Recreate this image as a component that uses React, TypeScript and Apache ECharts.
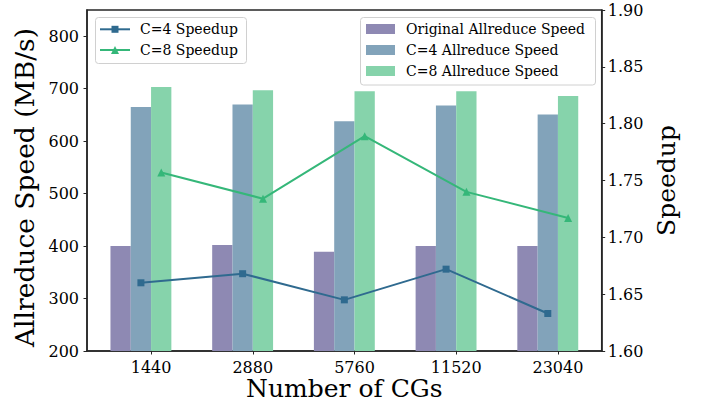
import React, { useEffect, useRef } from "react";
import * as echarts from "echarts";

const categories = ["1440", "2880", "5760", "11520", "23040"];
const originalSpeed = [400, 402, 389, 400, 400];
const c4Speed = [665, 670, 638, 668, 651];
const c8Speed = [703, 697, 695, 695, 686];
const c4Speedup = [1.66, 1.668, 1.645, 1.672, 1.633];
const c8Speedup = [1.757, 1.734, 1.789, 1.74, 1.717];
const speedTicks = [200, 300, 400, 500, 600, 700, 800];
const speedupTicks = [1.6, 1.65, 1.7, 1.75, 1.8, 1.85, 1.9];
const lineNames = ["C=4 Speedup", "C=8 Speedup"];
const barNames = ["Original Allreduce Speed", "C=4 Allreduce Speed", "C=8 Allreduce Speed"];

const FONT = "DejaVu Serif";
const AXIS_COLOR = "#262626";
const C_ORIG = "#8e89b3";
const C_C4BAR = "#82a3ba";
const C_C8BAR = "#86d3ab";
const C_C4LINE = "#2f6a8f";
const C_C8LINE = "#35b779";

export default function App() {
  const ref = useRef<HTMLDivElement>(null);
  useEffect(() => {
    if (!ref.current) return;
    const chart = echarts.init(ref.current, undefined, { renderer: "svg" });
    const barWidth = 20.3;
    const xs = categories.map((_, i) => i);
    const legendFont = `14px "${FONT}", serif`;

    // legend drawn with graphic elements (layout only)
    const lineRows = [29.3, 50];
    const barRows = [29, 50, 71];
    const lineColors = [C_C4LINE, C_C8LINE];
    const barColors = [C_ORIG, C_C4BAR, C_C8BAR];
    const graphics: any[] = [
      {
        type: "rect",
        z: 100,
        shape: { x: 95.5, y: 17.5, width: 151, height: 46, r: 3 },
        style: { fill: "rgba(255,255,255,0.8)", stroke: "#d0d0d0", lineWidth: 1 },
      },
      {
        type: "rect",
        z: 100,
        shape: { x: 360.5, y: 17.5, width: 235, height: 67.5, r: 3 },
        style: { fill: "rgba(255,255,255,0.8)", stroke: "#d0d0d0", lineWidth: 1 },
      },
    ];
    lineNames.forEach((name, i) => {
      const y = lineRows[i];
      graphics.push({
        type: "line",
        z: 101,
        shape: { x1: 100, y1: y, x2: 130, y2: y },
        style: { stroke: lineColors[i], lineWidth: 2 },
      });
      if (i === 0) {
        graphics.push({
          type: "rect",
          z: 102,
          shape: { x: 111.5, y: y - 3.5, width: 7, height: 7 },
          style: { fill: lineColors[i] },
        });
      } else {
        graphics.push({
          type: "polygon",
          z: 102,
          shape: { points: [[115, y - 4], [119, y + 4], [111, y + 4]] },
          style: { fill: lineColors[i] },
        });
      }
      graphics.push({
        type: "text",
        z: 102,
        style: {
          text: name,
          x: 140,
          y,
          font: legendFont,
          fill: "#000",
          verticalAlign: "middle",
          align: "left",
        },
      });
    });
    barNames.forEach((name, i) => {
      const y = barRows[i];
      graphics.push({
        type: "rect",
        z: 101,
        shape: { x: 366, y: y - 5, width: 29, height: 10 },
        style: { fill: barColors[i] },
      });
      graphics.push({
        type: "text",
        z: 102,
        style: {
          text: name,
          x: 406,
          y,
          font: legendFont,
          fill: "#000",
          verticalAlign: "middle",
          align: "left",
        },
      });
    });

    const option: any = {
      animation: false,
      backgroundColor: "#ffffff",
      textStyle: { fontFamily: FONT, color: "#000" },
      grid: {
        left: 87,
        right: 100.3,
        top: 10,
        bottom: 51,
        outerBoundsMode: "none",
        containLabel: false,
        show: true,
        borderColor: AXIS_COLOR,
        borderWidth: 1.5,
        backgroundColor: "transparent",
      },
      graphic: graphics,
      xAxis: {
        type: "value",
        min: -0.53,
        max: 4.53,
        name: "Number of CGs",
        nameLocation: "middle",
        nameMoveOverlap: false,
        nameGap: 25,
        nameTextStyle: { fontFamily: FONT, fontSize: 25, lineHeight: 24, color: "#000" },
        axisLine: { show: true, onZero: false, lineStyle: { color: AXIS_COLOR, width: 1.5 } },
        axisTick: {
          show: true,
          length: 3.5,
          lineStyle: { color: AXIS_COLOR, width: 1 },
          customValues: xs.map((v) => v + 0.1),
        },
        axisLabel: {
          fontFamily: FONT,
          fontSize: 16,
          color: "#000",
          margin: 8,
          customValues: xs.map((v) => v + 0.1),
          formatter: (v: number) => categories[Math.round(v - 0.1)] ?? "",
        },
        splitLine: { show: false },
      },
      yAxis: [
        {
          type: "value",
          min: 200,
          max: 850,
          name: "Allreduce Speed (MB/s)",
          nameLocation: "middle",
          nameGap: 44,
          nameTextStyle: {
            fontFamily: FONT,
            fontSize: 26.5,
            color: "#000",
            padding: [0, 14, 0, 0],
          },
          axisLine: { show: true, onZero: false, lineStyle: { color: AXIS_COLOR, width: 1.5 } },
          axisTick: {
            show: true,
            length: 3.5,
            lineStyle: { color: AXIS_COLOR, width: 1 },
            customValues: speedTicks,
          },
          axisLabel: {
            fontFamily: FONT,
            fontSize: 16,
            color: "#000",
            margin: 8,
            customValues: speedTicks,
          },
          splitLine: { show: false },
        },
        {
          type: "value",
          min: 1.6,
          max: 1.9,
          position: "right",
          name: "Speedup",
          nameLocation: "middle",
          nameRotate: 90,
          nameGap: 47,
          nameTextStyle: { fontFamily: FONT, fontSize: 25, color: "#000" },
          axisLine: { show: true, onZero: false, lineStyle: { color: AXIS_COLOR, width: 1.5 } },
          axisTick: {
            show: true,
            length: 3.5,
            lineStyle: { color: AXIS_COLOR, width: 1 },
            customValues: speedupTicks,
          },
          axisLabel: {
            fontFamily: FONT,
            fontSize: 16,
            color: "#000",
            margin: 6,
            customValues: speedupTicks,
            formatter: (v: number) => v.toFixed(2),
          },
          splitLine: { show: false },
        },
      ],
      series: [
        {
          name: barNames[0],
          type: "bar",
          barWidth,
          barGap: "0%",
          yAxisIndex: 0,
          itemStyle: { color: C_ORIG },
          data: xs.map((x, i) => [x, originalSpeed[i]]),
          z: 2,
        },
        {
          name: barNames[1],
          type: "bar",
          barWidth,
          barGap: "0%",
          yAxisIndex: 0,
          itemStyle: { color: C_C4BAR },
          data: xs.map((x, i) => [x, c4Speed[i]]),
          z: 2,
        },
        {
          name: barNames[2],
          type: "bar",
          barWidth,
          barGap: "0%",
          yAxisIndex: 0,
          itemStyle: { color: C_C8BAR },
          data: xs.map((x, i) => [x, c8Speed[i]]),
          z: 2,
        },
        {
          name: lineNames[0],
          type: "line",
          yAxisIndex: 1,
          symbol: "rect",
          symbolSize: 7,
          color: C_C4LINE,
          lineStyle: { width: 2, color: C_C4LINE },
          itemStyle: { color: C_C4LINE },
          data: xs.map((x, i) => [x, c4Speedup[i]]),
          z: 5,
        },
        {
          name: lineNames[1],
          type: "line",
          yAxisIndex: 1,
          symbol: "triangle",
          symbolSize: 8,
          color: C_C8LINE,
          lineStyle: { width: 2, color: C_C8LINE },
          itemStyle: { color: C_C8LINE },
          data: xs.map((x, i) => [x + 0.2, c8Speedup[i]]),
          z: 5,
        },
      ],
    };
    chart.setOption(option);
    return () => chart.dispose();
  }, []);
  return (
    <div
      ref={ref}
      style={{ position: "absolute", left: 0, top: 0, width: 702, height: 402 }}
    />
  );
}
